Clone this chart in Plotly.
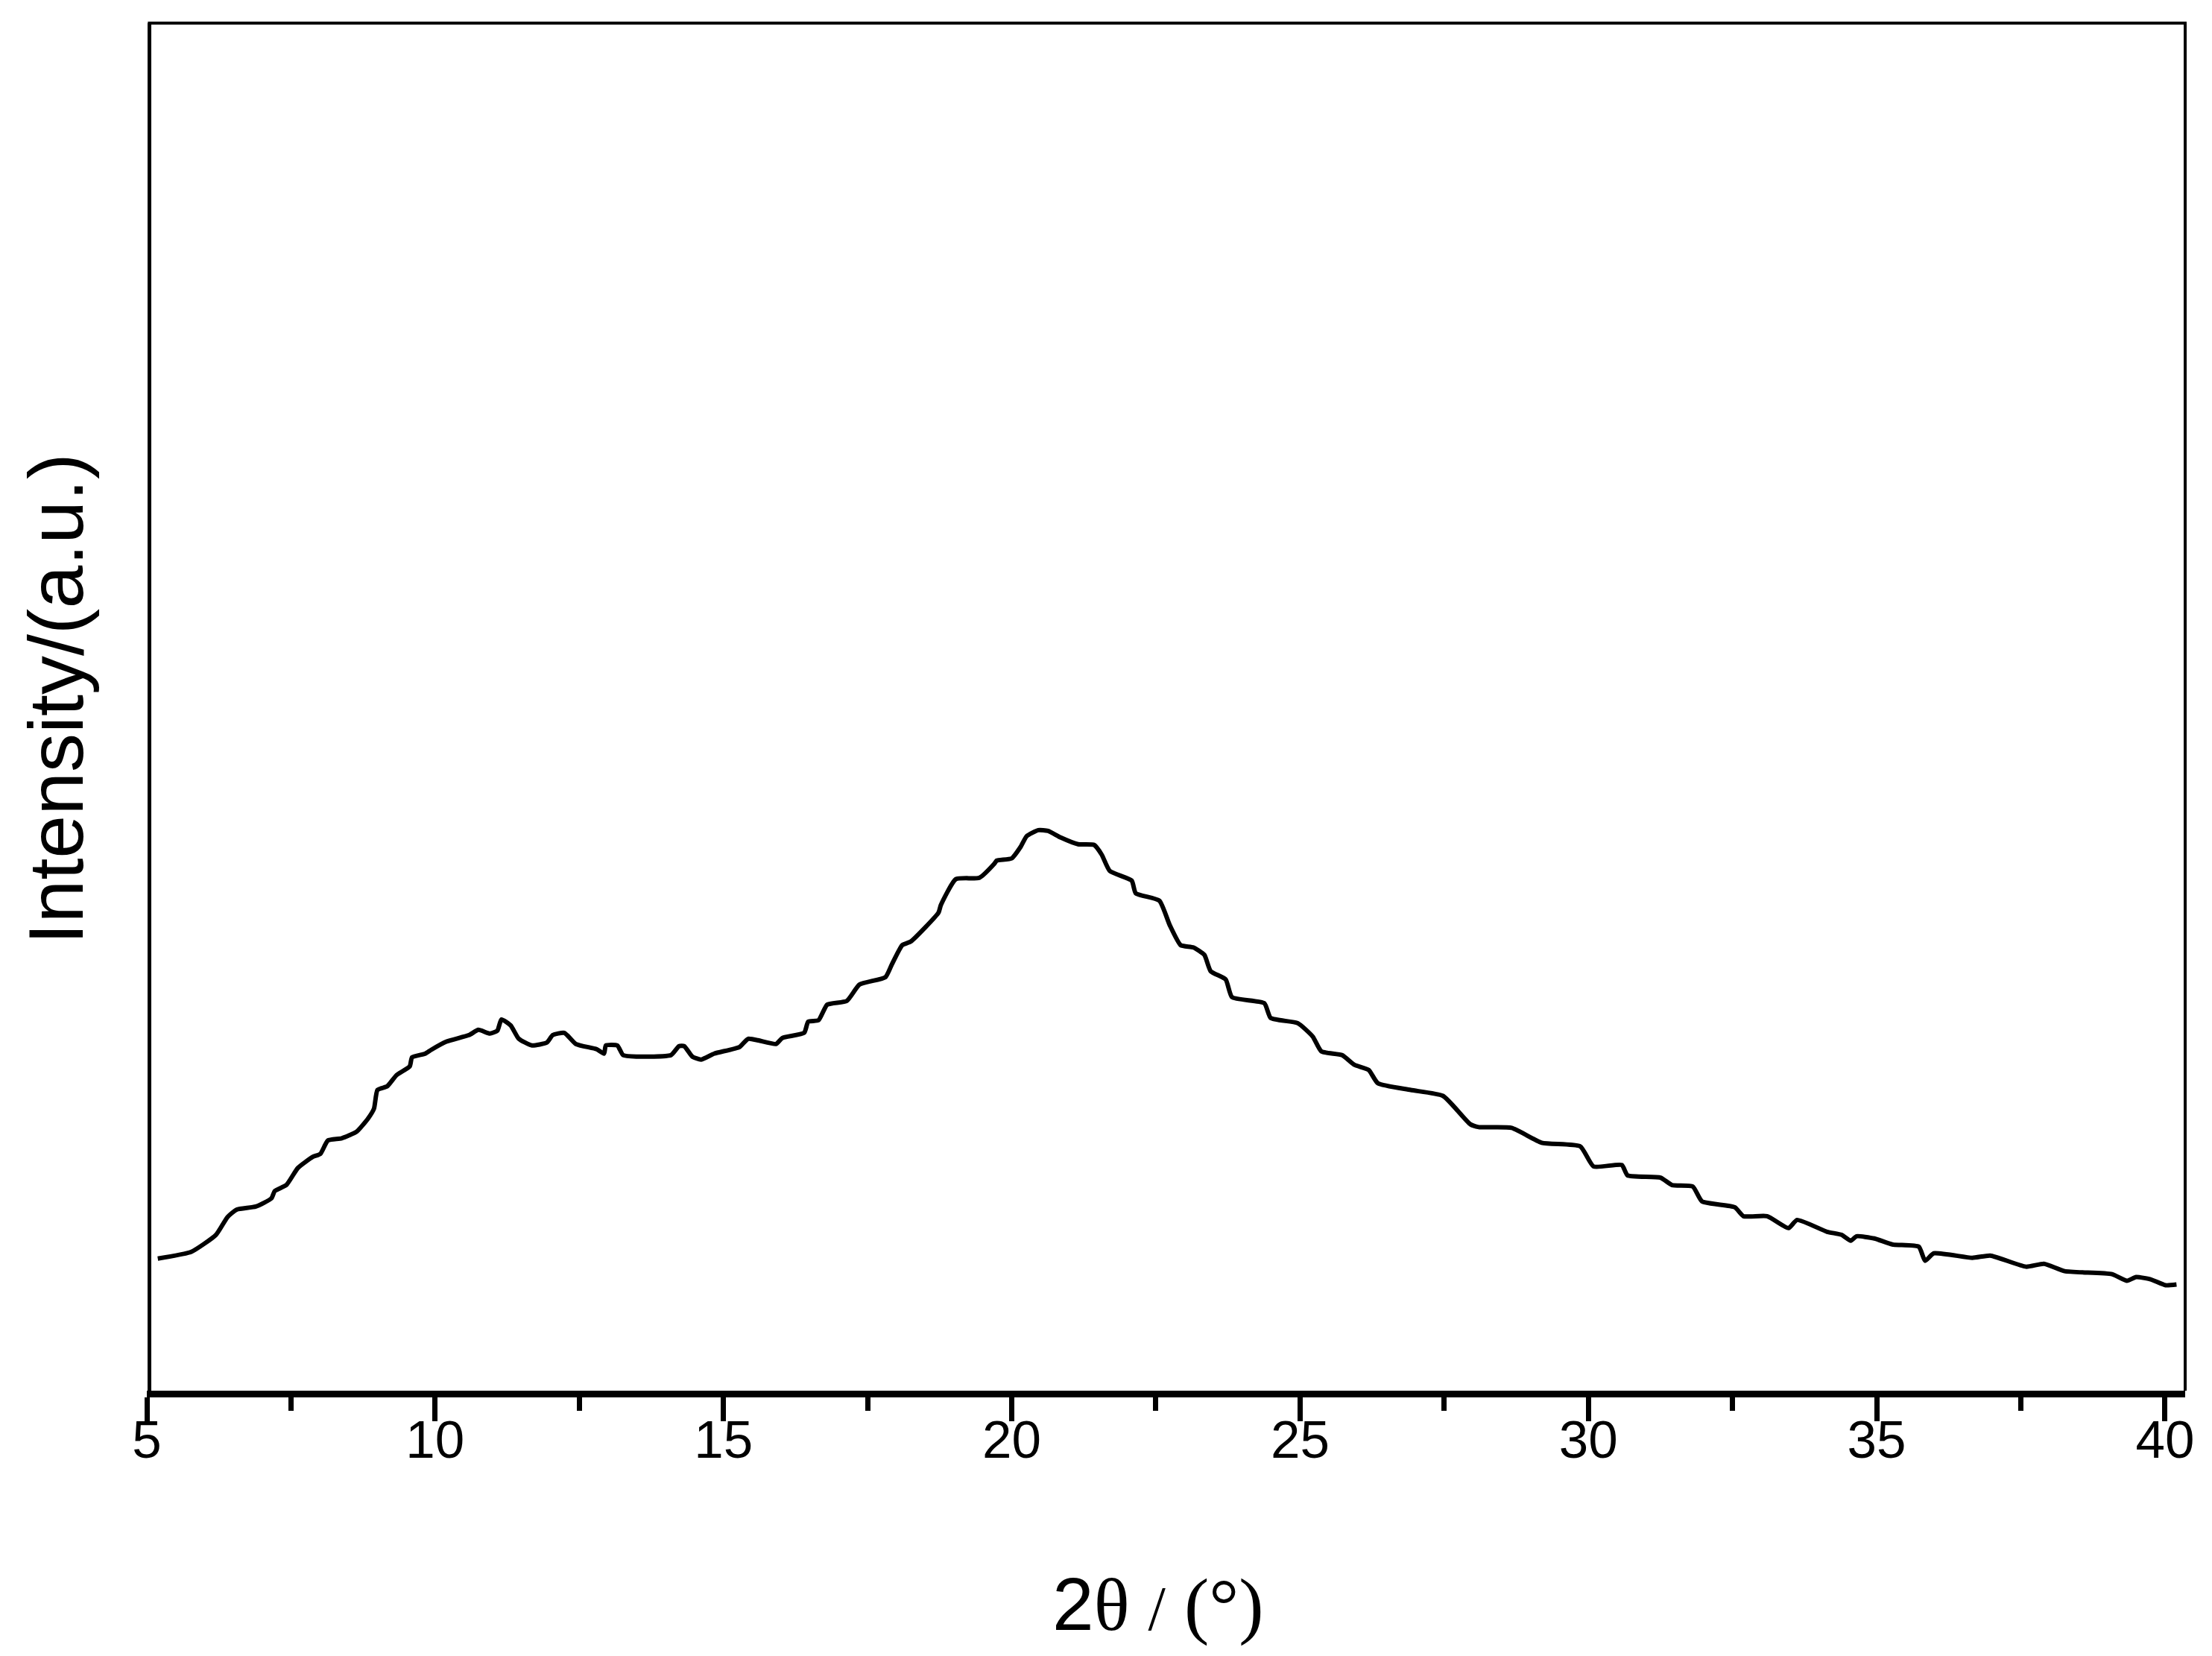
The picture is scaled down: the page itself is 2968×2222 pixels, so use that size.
# XRD pattern: broad amorphous hump, intensity in arbitrary units
import plotly.graph_objects as go

# 2theta (degrees)
two_theta = [
    5.19, 5.77, 6.20, 6.40, 6.56, 6.89, 7.16, 7.22, 7.42, 7.62, 7.88, 8.01, 8.14, 8.38, 8.64,
    8.84, 8.94, 9.00, 9.17, 9.33, 9.56, 9.60, 9.83, 9.93, 10.19, 10.59, 10.75, 10.95, 11.08, 11.15,
    11.31, 11.45, 11.68, 11.94, 12.04, 12.24, 12.44, 12.80, 12.93, 12.96, 13.16, 13.26, 13.49, 14.09,
    14.23, 14.32, 14.46, 14.61, 14.84, 15.28, 15.43, 15.91, 16.02, 16.40, 16.47, 16.65, 16.80, 17.14,
    17.36, 17.81, 17.92, 18.10, 18.25, 18.73, 18.77, 19.03, 19.44, 19.70, 19.74, 20.00, 20.15, 20.26,
    20.46, 20.63, 20.85, 21.15, 21.43, 21.56, 21.70, 22.08, 22.15, 22.56, 22.74, 22.93, 23.15, 23.34,
    23.45, 23.71, 23.82, 24.38, 24.49, 24.96, 25.22, 25.37, 25.73, 25.94, 26.19, 26.35, 26.92, 27.48,
    27.95, 28.10, 28.67, 29.19, 29.86, 30.09, 30.58, 30.68, 31.25, 31.45, 31.81, 31.97, 32.54, 32.69,
    33.10, 33.47, 33.62, 34.14, 34.39, 34.55, 34.65, 34.96, 35.27, 35.73, 35.84, 35.99, 36.66, 36.97,
    37.59, 37.90, 38.26, 39.08, 39.34, 39.50, 39.75, 40.01, 40.20,
]

# intensity (a.u.)
intensity = [
    181, 190, 213, 237, 247, 251, 262, 272, 280, 303, 318, 322, 340, 343, 352,
    370, 383, 408, 413, 428, 440, 452, 457, 462, 473, 482, 489, 484, 488, 503,
    495, 477, 468, 472, 482, 485, 470, 463, 457, 468, 468, 455, 453, 455,
    467, 467, 453, 449, 457, 466, 477, 470, 478, 485, 500, 502, 523, 528,
    550, 560, 577, 603, 608, 647, 657, 692, 694, 713, 717, 720, 735, 750,
    758, 757, 748, 739, 738, 725, 703, 690, 673, 663, 630, 603, 600, 590,
    568, 557, 533, 525, 505, 498, 480, 460, 455, 442, 435, 417, 408, 400,
    362, 358, 357, 337, 332, 305, 307, 293, 290, 280, 278, 258, 250, 238,
    238, 222, 233, 217, 213, 205, 211, 208, 200, 197, 178, 188, 182, 185,
    170, 174, 164, 160, 151, 156, 153, 145, 146,
]

x_ticks = [5, 10, 15, 20, 25, 30, 35, 40]

fig = go.Figure()
fig.add_trace(go.Scatter(
    x=two_theta, y=intensity, mode="lines",
    line=dict(color="black", width=6, shape="spline", smoothing=0.5),
    showlegend=False, hoverinfo="skip",
))

# box frame (left / top / right); bottom comes from the x axis line
frame = dict(color="black")
fig.add_shape(type="line", xref="paper", yref="paper", x0=0.00128, x1=0.00128, y0=0, y1=1,
              line=dict(frame, width=5))
fig.add_shape(type="line", xref="paper", yref="paper", x0=0.0005, x1=1.0007, y0=1, y1=1,
              line=dict(frame, width=4))
fig.add_shape(type="line", xref="paper", yref="paper", x0=1, x1=1, y0=0, y1=1,
              line=dict(frame, width=4))

fig.add_annotation(text="Intensity/(a.u.)", textangle=-90, xref="paper", yref="paper",
                   x=-0.0443, y=0.506, xanchor="center", yanchor="middle", showarrow=False,
                   font=dict(family="Liberation Sans, Arial", size=104, color="black"))
fig.add_annotation(
    text="2<span style='font-family:Liberation Serif, Times New Roman'>θ "
         "<span style='font-size:84px'>/</span> (°)</span>",
    xref="paper", yref="paper", x=0.4958, y=-0.156, xanchor="center", yanchor="middle",
    showarrow=False,
    font=dict(family="Liberation Sans, Arial", size=100, color="black"))

fig.update_layout(
    width=2968, height=2222,
    margin=dict(l=189, r=44, t=23, b=364),
    plot_bgcolor="white", paper_bgcolor="white",
    xaxis=dict(
        range=[5, 40.35], tickvals=x_ticks, ticks="outside", ticklen=32, tickwidth=7,
        tickcolor="black", showline=True, linewidth=9, linecolor="black",
        showgrid=False, zeroline=False, ticklabelstandoff=-36,
        tickfont=dict(family="Liberation Sans, Arial", size=71, color="black"),
        minor=dict(dtick=2.5, tick0=5, ticks="outside", ticklen=18, tickwidth=7,
                   tickcolor="black", showgrid=False),
    ),
    yaxis=dict(range=[3, 1845], showticklabels=False, ticks="", showline=False,
               showgrid=False, zeroline=False),
)

fig.write_html("out.html")
